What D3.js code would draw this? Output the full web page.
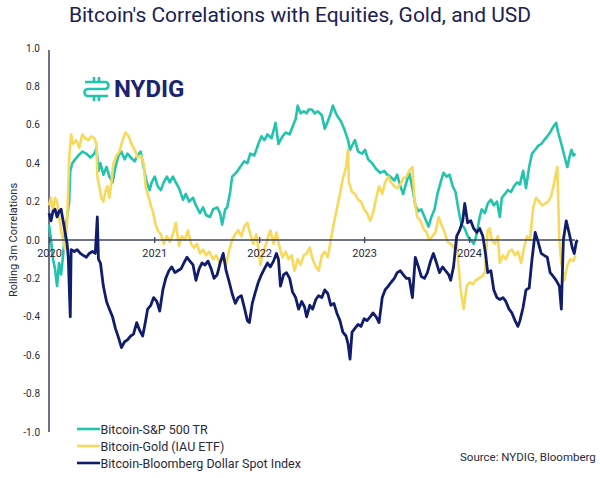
<!DOCTYPE html>
<html><head><meta charset="utf-8">
<script src="https://cdn.jsdelivr.net/npm/d3@7"></script>
<style>html,body{margin:0;padding:0;background:#fff;}svg{display:block;}</style>
</head><body>
<svg id="chart" width="600" height="478"></svg>
<script>
// ---- Data: [weeks since 2020-01-01, rolling 3m correlation] ----
const title = "Bitcoin's Correlations with Equities, Gold, and USD";
const yLabel = "Rolling 3m Correlations";
const yTicks = [1.0, 0.8, 0.6, 0.4, 0.2, 0.0, -0.2, -0.4, -0.6, -0.8, -1.0];
const xTickYears = [2020, 2021, 2022, 2023, 2024];
const seriesNames = ["Bitcoin-S&P 500 TR", "Bitcoin-Gold (IAU ETF)", "Bitcoin-Bloomberg Dollar Spot Index"];
const sourceText = "Source: NYDIG, Bloomberg";

const spx = [[0,0.08],[1,0.0],[2,-0.10],[3,-0.15],[4,-0.24],[5,-0.12],[6,-0.18],[7,-0.08],[8,0.05],[9,0.12],[10,0.20],[10.5,0.36],[11.5,0.40],[13,0.42],[14.5,0.44],[16.5,0.46],[18.5,0.45],[20.5,0.43],[22.5,0.45],[23.5,0.48],[24.5,0.36],[25.5,0.40],[27,0.34],[28.5,0.38],[30,0.33],[31.5,0.30],[33,0.38],[34.5,0.44],[36,0.46],[37.5,0.42],[39,0.45],[40.5,0.43],[42.5,0.41],[44,0.44],[45.5,0.46],[47,0.38],[48.5,0.30],[50,0.26],[51,0.30],[52.5,0.33],[54,0.28],[55.5,0.26],[57,0.30],[58.5,0.33],[60,0.30],[61.5,0.33],[63,0.30],[64.5,0.27],[66.5,0.21],[68,0.24],[69.5,0.20],[71.5,0.22],[73,0.18],[75,0.14],[76.5,0.17],[78,0.13],[80,0.12],[81.5,0.16],[83.5,0.17],[85,0.14],[86,0.08],[87.5,0.16],[88.5,0.17],[90,0.25],[91,0.33],[93,0.35],[95,0.38],[97,0.41],[98.5,0.40],[100,0.45],[102,0.44],[104,0.50],[105.5,0.54],[107,0.52],[108.5,0.55],[110.5,0.53],[112.5,0.61],[114,0.50],[116,0.54],[117.5,0.56],[119.5,0.55],[121,0.59],[122.5,0.63],[123.5,0.70],[125,0.66],[126.5,0.67],[128,0.66],[129,0.68],[130.5,0.68],[132,0.66],[133.5,0.67],[135.5,0.65],[137,0.58],[138.5,0.62],[140,0.66],[141,0.70],[142.5,0.66],[143.5,0.64],[145,0.62],[147,0.57],[148.5,0.52],[149.5,0.47],[151,0.50],[152,0.52],[153.5,0.46],[155.5,0.45],[157,0.47],[158.5,0.42],[160.5,0.40],[162.5,0.37],[164.5,0.35],[166.5,0.36],[168,0.34],[169.5,0.33],[171.5,0.31],[173,0.34],[174.5,0.28],[176,0.24],[177.5,0.30],[179,0.35],[180.5,0.27],[182,0.18],[183.5,0.15],[185,0.16],[186.5,0.12],[188.5,0.07],[190,0.12],[191.5,0.16],[193,0.24],[194.5,0.30],[196,0.35],[197.5,0.33],[199,0.34],[200.5,0.28],[202,0.25],[203.5,0.15],[205,0.08],[206.5,0.06],[208,0.02],[209.5,0.00],[211,-0.02],[212,0.01],[213,0.06],[214,0.12],[215,0.16],[216.5,0.14],[218,0.19],[219.5,0.21],[221,0.18],[222.5,0.20],[224,0.12],[225,0.22],[226.5,0.24],[228,0.26],[229.5,0.25],[231,0.28],[232.5,0.30],[234,0.29],[235.5,0.36],[237,0.27],[238.5,0.38],[240,0.45],[241.5,0.47],[243,0.49],[244.5,0.50],[246,0.52],[247.5,0.54],[249,0.56],[250.5,0.59],[252,0.61],[253,0.56],[254.5,0.50],[256,0.44],[257.5,0.38],[258.5,0.43],[259.5,0.47],[260.5,0.44],[261.5,0.45]];

const gold = [[0,0.18],[1,0.22],[2,0.15],[3,0.22],[4,0.20],[5,0.12],[6,0.05],[7,0.00],[8,-0.05],[9,0.10],[10,0.42],[11,0.55],[12,0.50],[13.5,0.52],[15,0.48],[16.5,0.55],[18,0.53],[19.5,0.52],[21,0.54],[22.5,0.53],[23.5,0.50],[24,0.33],[25,0.28],[26,0.22],[27,0.20],[28,0.25],[29,0.28],[30,0.22],[31,0.30],[32,0.40],[33.5,0.44],[35,0.46],[36.5,0.52],[38,0.56],[39.5,0.54],[41,0.50],[42.5,0.47],[44,0.43],[45.5,0.44],[47,0.40],[48,0.28],[49.5,0.22],[50.5,0.18],[51.5,0.15],[53,0.08],[54,0.05],[55.5,0.03],[57,-0.02],[58.5,0.02],[60,-0.01],[61.5,0.03],[63,0.09],[64.5,-0.03],[66,0.02],[67.5,0.00],[69,0.05],[70.5,-0.02],[72,-0.04],[73.5,-0.02],[75,-0.07],[76.5,-0.05],[78,-0.08],[79.5,-0.06],[81.5,-0.10],[83,-0.08],[85,-0.12],[86.5,-0.09],[88,-0.13],[89.5,-0.05],[91,0.00],[92.5,0.03],[94,0.05],[95.5,0.02],[97,0.07],[98.5,0.09],[100,0.03],[101.5,-0.02],[103,0.03],[104,-0.04],[105,-0.13],[106,-0.08],[107.5,-0.03],[109,0.02],[110,0.05],[111.5,-0.02],[113,0.04],[114.5,-0.04],[116,-0.09],[117.5,-0.06],[119,-0.10],[120.5,-0.08],[122,-0.16],[123.5,-0.10],[125,-0.13],[126.5,-0.08],[128,-0.07],[129.5,-0.04],[131,-0.10],[132.5,-0.14],[134,-0.16],[135.5,-0.08],[137,-0.06],[138.5,-0.09],[140,0.00],[141.5,0.09],[143,0.16],[144.5,0.24],[146,0.32],[147.5,0.38],[148.5,0.47],[149,0.30],[150.5,0.25],[152,0.24],[153.5,0.21],[155,0.20],[156.5,0.16],[158,0.14],[159.5,0.10],[161,0.14],[162.5,0.22],[164,0.28],[165.5,0.24],[167,0.30],[168.5,0.33],[170,0.30],[171.5,0.28],[173,0.27],[174.5,0.29],[176,0.32],[177.5,0.33],[179,0.36],[180.5,0.38],[181.5,0.21],[183,0.12],[184.5,0.10],[186,0.06],[187.5,0.04],[189,0.00],[190.5,0.02],[192,0.04],[193.5,0.12],[195,0.08],[196.5,0.04],[198,-0.01],[199.5,-0.02],[201,-0.04],[202.5,-0.01],[203.5,-0.14],[204.5,-0.26],[206,-0.36],[207.5,-0.24],[209,-0.22],[210.5,-0.23],[212,-0.21],[213.5,-0.20],[215,-0.19],[216.5,-0.17],[218,0.05],[219,0.06],[220,0.00],[221.5,-0.02],[223,0.02],[224,-0.12],[225.5,-0.08],[227,-0.10],[228.5,-0.06],[230,-0.05],[231.5,-0.08],[233,-0.06],[234.5,-0.12],[236,-0.04],[237.5,0.02],[239,0.00],[240.5,0.17],[242,0.22],[243.5,0.20],[245,0.18],[246.5,0.19],[248,0.20],[249.5,0.23],[251,0.30],[252.5,0.38],[253.5,0.00],[254.5,-0.12],[256,-0.21],[257.5,-0.13],[259,-0.10],[260.5,-0.11],[261.5,-0.08]];

const usd = [[0,0.14],[1,0.10],[2,0.15],[3,0.16],[4,0.12],[5,0.15],[6,0.16],[7,0.10],[8,0.04],[9,-0.02],[9.5,-0.09],[10.5,-0.40],[11,-0.05],[12.5,-0.06],[14,-0.05],[15.5,-0.07],[17,-0.08],[18.5,-0.09],[20,-0.07],[21.5,-0.06],[23,-0.07],[24,0.12],[24.5,-0.10],[25.5,-0.12],[27,-0.24],[28.5,-0.32],[30,-0.36],[31.5,-0.40],[33,-0.46],[34.5,-0.51],[36,-0.56],[37.5,-0.53],[39,-0.52],[40.5,-0.50],[42,-0.49],[43.5,-0.43],[45,-0.47],[46.5,-0.50],[48,-0.42],[49,-0.36],[50.5,-0.34],[52,-0.30],[53.5,-0.32],[55,-0.37],[56.5,-0.26],[58,-0.20],[59.5,-0.16],[61,-0.14],[62.5,-0.17],[64,-0.16],[65.5,-0.15],[67,-0.12],[68.5,-0.09],[70,-0.11],[71.5,-0.13],[73,-0.21],[74.5,-0.15],[76,-0.12],[77.5,-0.13],[79,-0.11],[80.5,-0.15],[82,-0.20],[83.5,-0.18],[85,-0.12],[86.5,-0.07],[88,-0.16],[89.5,-0.22],[91,-0.28],[92.5,-0.33],[94,-0.30],[95.5,-0.29],[97,-0.35],[98.5,-0.42],[99.5,-0.43],[101,-0.33],[102.5,-0.27],[104,-0.22],[105.5,-0.18],[107,-0.15],[108.5,-0.12],[110,-0.14],[111.5,-0.11],[113,-0.07],[114,-0.10],[115,-0.24],[116.5,-0.18],[118,-0.17],[119.5,-0.20],[121,-0.27],[122.5,-0.30],[124,-0.36],[125.5,-0.32],[127,-0.35],[128,-0.40],[129.5,-0.34],[131,-0.36],[132.5,-0.31],[134,-0.29],[135.5,-0.30],[137,-0.26],[138.5,-0.28],[140,-0.34],[141.5,-0.33],[143,-0.38],[144.5,-0.42],[146,-0.48],[147.5,-0.50],[148.5,-0.54],[149.5,-0.62],[150.5,-0.48],[152,-0.46],[153.5,-0.44],[155,-0.45],[156.5,-0.41],[158,-0.42],[159.5,-0.40],[161,-0.38],[162.5,-0.40],[164,-0.43],[165.5,-0.30],[167,-0.26],[168.5,-0.24],[170,-0.22],[171.5,-0.20],[173,-0.17],[174.5,-0.16],[176,-0.18],[177.5,-0.20],[179,-0.20],[180.5,-0.30],[182,-0.09],[183.5,-0.14],[185,-0.19],[186.5,-0.20],[188,-0.17],[189.5,-0.11],[191,-0.07],[192.5,-0.12],[194,-0.17],[195.5,-0.14],[197,-0.16],[198.5,-0.18],[199.5,-0.21],[201,-0.14],[202.5,0.02],[204,0.05],[205.5,0.10],[206.5,0.19],[208,0.09],[209.5,0.10],[211,0.06],[212.5,0.04],[214,0.06],[215.5,0.02],[217,-0.08],[218,-0.17],[219.5,-0.16],[221,-0.26],[222.5,-0.30],[224,-0.31],[225.5,-0.30],[227,-0.32],[228.5,-0.36],[230,-0.38],[231.5,-0.42],[233,-0.45],[234,-0.42],[235.5,-0.35],[237,-0.26],[238.5,-0.25],[240,-0.10],[241.5,0.04],[243,-0.01],[244.5,-0.07],[246,-0.08],[247.5,-0.09],[249,-0.17],[250.5,-0.19],[252,-0.21],[253.5,-0.24],[254.5,-0.36],[255.5,0.00],[257,0.10],[258.5,0.03],[260,-0.04],[261,-0.07],[262,-0.01],[262.5,0.00]];

const colors = ["#22c4ad", "#f8d95b", "#101c6c"];

// ---- Drawing ----
const svg = d3.select("#chart");
const start = new Date(2020, 0, 1);
const toDate = w => d3.timeDay.offset(start, Math.round(w * 7));
const font = "Roboto, 'Noto Sans', sans-serif";
const textColor = "#2a2a3a";

const x = d3.scaleTime()
  .domain([start, new Date(2024, 11, 31)])
  .range([49, 574]);
const y = d3.scaleLinear().domain([-1, 1]).range([432, 48]);

// Title
svg.append("text").attr("x", 300).attr("y", 22)
  .attr("text-anchor", "middle")
  .attr("font-family", font)
  .attr("font-size", 21).attr("fill", "#1b2152")
  .text(title);

// Logo
const logo = svg.append("g").attr("transform", "translate(83,77)");
const lg = "#22c4ad";
logo.append("path")
  .attr("d", "M2,5 H22 A3.5,3.5 0 0 1 22,12 H5 A3.5,3.5 0 0 0 5,19 H25")
  .attr("fill", "none").attr("stroke", lg).attr("stroke-width", 2.6);
logo.append("path")
  .attr("d", "M11,0 V5 M16,0 V5 M11,19 V24 M16,19 V24")
  .attr("fill", "none").attr("stroke", lg).attr("stroke-width", 2.6);
svg.append("text").attr("x", 114).attr("y", 97)
  .attr("font-family", font)
  .attr("font-weight", 700).attr("font-size", 24).attr("fill", "#1b2470")
  .text("NYDIG");

// Y axis
const axisColor = "#3f4563";
svg.append("line").attr("x1", 49).attr("x2", 49).attr("y1", y(1) + 2).attr("y2", y(-1))
  .attr("stroke", axisColor).attr("stroke-width", 1.5);
svg.append("g").selectAll("text").data(yTicks).join("text")
  .attr("x", 40).attr("y", d => y(d) + 3.5)
  .attr("text-anchor", "end")
  .attr("font-family", font)
  .attr("font-size", 10).attr("fill", textColor)
  .text(d => d.toFixed(1));
svg.append("text")
  .attr("transform", `translate(17,${y(0)}) rotate(-90)`)
  .attr("text-anchor", "middle")
  .attr("font-family", font)
  .attr("font-size", 11).attr("fill", textColor)
  .text(yLabel);

// Series lines
const line = d3.line().x(d => x(toDate(d[0]))).y(d => y(d[1])).curve(d3.curveLinear);
[spx, gold].forEach((s, i) => {
  svg.append("path").datum(s).attr("d", line)
    .attr("fill", "none").attr("stroke", colors[i])
    .attr("stroke-width", 2.6).attr("stroke-linejoin", "round");
});

// X axis (zero line) with ticks
const xAxis = d3.axisBottom(x)
  .tickValues(xTickYears.map(yr => new Date(yr, 0, 1)))
  .tickFormat(d3.timeFormat("%Y"))
  .tickSize(3).tickPadding(6);
const gx = svg.append("g").attr("transform", `translate(0,${y(0)})`).call(xAxis);
gx.select(".domain").attr("d", `M49,0H575`).attr("stroke", axisColor).attr("stroke-width", 1.6);
gx.selectAll(".tick line").attr("y1", -3).attr("y2", 3).attr("stroke", axisColor).attr("stroke-width", 1.3);
gx.selectAll(".tick text").attr("font-family", font)
  .attr("font-size", 11).attr("fill", textColor);

svg.append("path").datum(usd).attr("d", line)
  .attr("fill", "none").attr("stroke", colors[2])
  .attr("stroke-width", 2.8).attr("stroke-linejoin", "round");

// Legend
const legY = [429, 446, 463];
const leg = svg.append("g");
seriesNames.forEach((n, i) => {
  leg.append("line").attr("x1", 77).attr("x2", 100).attr("y1", legY[i]).attr("y2", legY[i])
    .attr("stroke", colors[i]).attr("stroke-width", 2.6);
  leg.append("text").attr("x", 100.5).attr("y", legY[i] + 4.5)
    .attr("font-family", font)
    .attr("font-size", 12.5).attr("fill", textColor).text(n);
});

// Source
svg.append("text").attr("x", 460).attr("y", 461)
  .attr("font-family", font)
  .attr("font-size", 11.5).attr("fill", textColor).text(sourceText);
</script>
</body></html>
